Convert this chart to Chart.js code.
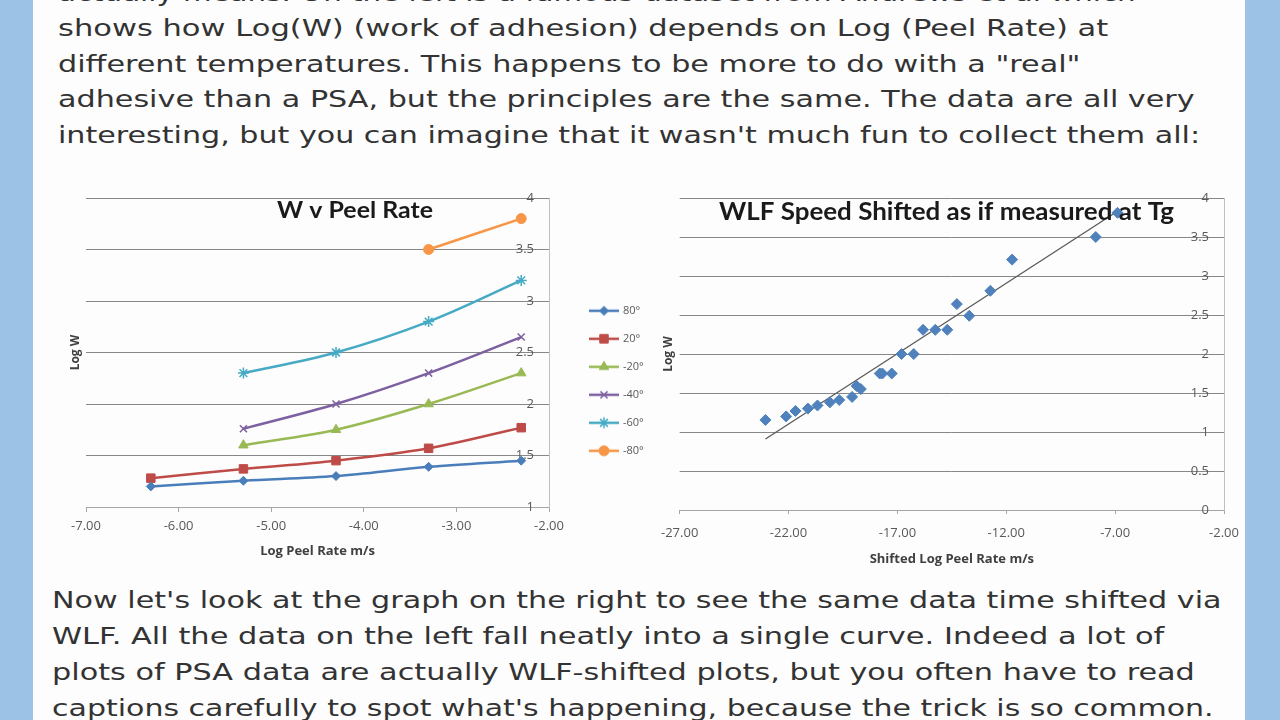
<!DOCTYPE html>
<html><head><meta charset="utf-8">
<script src="https://cdn.jsdelivr.net/npm/chart.js@4.4.1/dist/chart.umd.min.js"></script>
<style>
html,body{margin:0;padding:0;width:1280px;height:720px;overflow:hidden;background:#9cc2e5;}
#panel{position:absolute;left:33px;top:0;width:1212px;height:720px;background:#fdfdfd;}
.ln{position:absolute;white-space:nowrap;font-family:"DejaVu Sans";font-size:23px;line-height:36px;height:36px;color:#333;transform-origin:0 0;}
canvas{position:absolute;}
</style></head><body>
<div id="panel"></div>
<div class="ln" data-w="1078" style="left:58px;top:-25px">actually means. On the left is a famous dataset from Andrews et al which</div>
<div class="ln" data-w="1050" style="left:58px;top:10px">shows how Log(W) (work of adhesion) depends on Log (Peel Rate) at</div>
<div class="ln" data-w="1022" style="left:58px;top:45.5px">different temperatures. This happens to be more to do with a "real"</div>
<div class="ln" data-w="1137" style="left:58px;top:81px">adhesive than a PSA, but the principles are the same. The data are all very</div>
<div class="ln" data-w="1142" style="left:58px;top:116.5px">interesting, but you can imagine that it wasn't much fun to collect them all:</div>
<div class="ln" data-w="1169" style="left:52px;top:582px">Now let's look at the graph on the right to see the same data time shifted via</div>
<div class="ln" data-w="1113" style="left:52px;top:618px">WLF. All the data on the left fall neatly into a single curve. Indeed a lot of</div>
<div class="ln" data-w="1143" style="left:52px;top:654px">plots of PSA data are actually WLF-shifted plots, but you often have to read</div>
<div class="ln" data-w="1161" style="left:52px;top:690px">captions carefully to spot what's happening, because the trick is so common.</div>
<canvas id="c1" width="610" height="390" style="left:60px;top:185px"></canvas>
<canvas id="c2" width="600" height="390" style="left:650px;top:185px"></canvas>
<script>
// ---- data: left chart (Log W vs Log Peel Rate) ----
const peelRate = [-6.3, -5.3, -4.3, -3.3, -2.3];
const seriesLabels = ['80°', '20°', '-20°', '-40°', '-60°', '-80°'];
const w80  = [1.20, 1.255, 1.30, 1.39, 1.45];
const w20  = [1.28, 1.37, 1.45, 1.57, 1.77];
const wm20 = [null, 1.60, 1.75, 2.00, 2.30];
const wm40 = [null, 1.76, 2.00, 2.30, 2.65];
const wm60 = [null, 2.30, 2.50, 2.80, 3.20];
const wm80 = [null, null, null, 3.50, 3.80];
// ---- data: right chart (WLF shifted) ----
const shiftedRate = [-23.06, -22.11, -21.68, -21.11, -20.67, -20.10, -19.67, -19.08, -18.87, -18.68, -17.81, -17.69, -17.26, -16.81, -16.25, -15.82, -15.26, -14.71, -14.27, -13.70, -12.73, -11.73, -7.89, -6.89];
const shiftedW    = [1.155, 1.20, 1.27, 1.30, 1.34, 1.38, 1.41, 1.45, 1.59, 1.55, 1.75, 1.75, 1.75, 2.00, 2.00, 2.31, 2.31, 2.31, 2.64, 2.49, 2.81, 3.21, 3.50, 3.81];
const trendRate = [-23.06, -6.89];
const trendW    = [0.91, 3.83];
// ---- text ----
const leftTitle = 'W v Peel Rate';
const rightTitle = 'WLF Speed Shifted as if measured at Tg';

// fit paragraph lines to measured widths
document.querySelectorAll('.ln').forEach(el => {
  const nat = el.scrollWidth;
  el.style.transform = 'scaleX(' + (parseFloat(el.dataset.w) / nat) + ')';
});

const seriesValues = [w80, w20, wm20, wm40, wm60, wm80];
const colors = ['#4a7ebb', '#be4b48', '#98b954', '#7d60a0', '#46aac5', '#f79646'];
const styles = ['rectRot', 'rect', 'triangle', 'crossRot', 'star', 'circle'];
const radii = [4.5, 6, 5.5, 5, 5.5, 5];
const mborder = [1, 1, 1, 1.5, 1.5, 1];

const overlayTitle = {
  id: 'overlayTitle',
  afterDraw(chart, args, o) {
    const {ctx, chartArea: a} = chart;
    ctx.save();
    ctx.font = o.font;
    ctx.fillStyle = o.color;
    ctx.textAlign = 'center';
    ctx.textBaseline = 'middle';
    const w = ctx.measureText(o.text).width;
    ctx.translate(a.left + (a.right - a.left) * o.fx, a.top + o.dy);
    ctx.scale(o.width / w, 1);
    ctx.fillText(o.text, 0, 0);
    ctx.restore();
  }
};

function legendIcon(i) {
  const c = document.createElement('canvas');
  c.width = 30; c.height = 14;
  const g = c.getContext('2d');
  g.strokeStyle = colors[i]; g.fillStyle = colors[i];
  g.lineWidth = 2.5;
  g.beginPath(); g.moveTo(0, 7); g.lineTo(30, 7); g.stroke();
  g.lineWidth = mborder[i];
  Chart.helpers.drawPoint(g, {pointStyle: styles[i], radius: radii[i], rotation: 0, borderWidth: mborder[i]}, 15, 7);
  return c;
}
const icons = seriesLabels.map((_, i) => legendIcon(i));

const tickFont = {family: 'Open Sans', size: 13};
const axTitleFont = {family: 'Open Sans', size: 13, weight: 'bold'};
const yTitleFont = {family: 'Open Sans', size: 12, weight: 'bold'};
const yTickFmt = v => String(Math.round(v * 10) / 10);

const leftDatasets = seriesValues.map((vals, i) => ({
  label: seriesLabels[i],
  data: peelRate.map((x, j) => ({x: x, y: vals[j]})).filter(p => p.y !== null),
  showLine: true,
  tension: 0.35,
  borderColor: colors[i],
  backgroundColor: colors[i],
  borderWidth: 2.5,
  pointStyle: styles[i],
  pointRadius: radii[i],
  pointBorderWidth: mborder[i],
  pointBackgroundColor: colors[i],
  pointBorderColor: colors[i]
}));

const c1 = new Chart(document.getElementById('c1'), {
  type: 'scatter',
  data: {datasets: leftDatasets},
  plugins: [overlayTitle],
  options: {
    responsive: false, animation: false, events: [],
    layout: {padding: {top: 13, left: 6, right: 0, bottom: 15}},
    plugins: {
      tooltip: {enabled: false},
      overlayTitle: {text: leftTitle, font: 'bold 22px Lato', color: '#1a1a1a', fx: 0.581, dy: 13, width: 156},
      legend: {
        position: 'right', align: 'center',
        title: {display: true, text: '', padding: 0, font: {size: 3}},
        labels: {
          usePointStyle: true, pointStyleWidth: 27, boxHeight: 11, padding: 17,
          color: '#595959', font: {family: 'Open Sans', size: 11},
          generateLabels: (chart) => chart.data.datasets.map((ds, i) => ({
            text: ds.label, fillStyle: colors[i], strokeStyle: colors[i], lineWidth: 0,
            pointStyle: icons[i], hidden: false, datasetIndex: i, fontColor: '#595959'
          }))
        }
      }
    },
    scales: {
      x: {
        type: 'linear', position: 'bottom', min: -7, max: -2,
        ticks: {stepSize: 1, callback: v => v.toFixed(2), color: '#595959', font: tickFont, padding: 6, maxRotation: 0, autoSkip: false},
        grid: {display: true, drawOnChartArea: false, drawTicks: true, tickLength: 5, color: '#a6a6a6'},
        border: {display: true, color: '#a6a6a6'},
        title: {display: true, text: 'Log Peel Rate m/s', font: axTitleFont, color: '#404040', padding: {top: 0, bottom: 1}},
        afterFit: s => { s.height = 53; }
      },
      y: {
        type: 'linear', position: 'right', min: 1, max: 4,
        ticks: {stepSize: 0.5, mirror: true, padding: -15, color: '#595959', font: tickFont, callback: yTickFmt},
        grid: {color: '#878787', drawTicks: false, tickLength: 0},
        border: {display: true, color: '#c0c0c0'},
        afterFit: s => { s.width = 24.5; }
      },
      yL: {
        type: 'linear', axis: 'y', position: 'left', display: true,
        ticks: {display: false}, grid: {display: false, drawTicks: false}, border: {display: false},
        title: {display: true, text: 'Log W', font: yTitleFont, color: '#404040', padding: {top: 2, bottom: 0}},
        afterFit: s => { s.width = 20; }
      }
    }
  }
});
c1.options.layout.padding.right = Math.max(0, 610 - 513.5 - c1.legend.width);
c1.update();

const c2 = new Chart(document.getElementById('c2'), {
  type: 'scatter',
  data: {datasets: [
    {
      label: 'Shifted',
      data: shiftedRate.map((x, j) => ({x: x, y: shiftedW[j]})),
      pointStyle: 'rectRot', pointRadius: 5.5, pointBorderWidth: 1,
      backgroundColor: '#4f81bd', borderColor: '#4f81bd', showLine: false
    },
    {
      label: 'Trend',
      data: trendRate.map((x, j) => ({x: x, y: trendW[j]})),
      showLine: true, pointRadius: 0, borderColor: '#5a5a5a', borderWidth: 1.3,
      backgroundColor: '#5a5a5a'
    }
  ]},
  plugins: [overlayTitle],
  options: {
    responsive: false, animation: false, events: [],
    layout: {padding: {top: 13, left: 2, right: 0, bottom: 7}},
    plugins: {
      tooltip: {enabled: false},
      legend: {display: false},
      overlayTitle: {text: rightTitle, font: 'bold 25px Lato', color: '#1a1a1a', fx: 0.49, dy: 14, width: 455}
    },
    scales: {
      x: {
        type: 'linear', position: 'bottom', min: -27, max: -2,
        ticks: {stepSize: 5, callback: v => v.toFixed(2), color: '#595959', font: tickFont, padding: 11, maxRotation: 0, autoSkip: false},
        grid: {display: true, drawOnChartArea: false, drawTicks: true, tickLength: 4, color: '#a6a6a6'},
        border: {display: true, color: '#a6a6a6'},
        title: {display: true, text: 'Shifted Log Peel Rate m/s', font: axTitleFont, color: '#404040', padding: {top: 0, bottom: 1}},
        afterFit: s => { s.height = 58; }
      },
      y: {
        type: 'linear', position: 'right', min: 0, max: 4,
        ticks: {stepSize: 0.5, mirror: true, padding: -15, color: '#595959', font: tickFont, callback: yTickFmt},
        grid: {color: '#878787', drawTicks: false, tickLength: 0},
        border: {display: true, color: '#c0c0c0'},
        afterFit: s => { s.width = 26; }
      },
      yL: {
        type: 'linear', axis: 'y', position: 'left', display: true,
        ticks: {display: false}, grid: {display: false, drawTicks: false}, border: {display: false},
        title: {display: true, text: 'Log W', font: yTitleFont, color: '#404040', padding: {top: 2, bottom: 0}},
        afterFit: s => { s.width = 20; }
      }
    }
  }
});
</script>
</body></html>
